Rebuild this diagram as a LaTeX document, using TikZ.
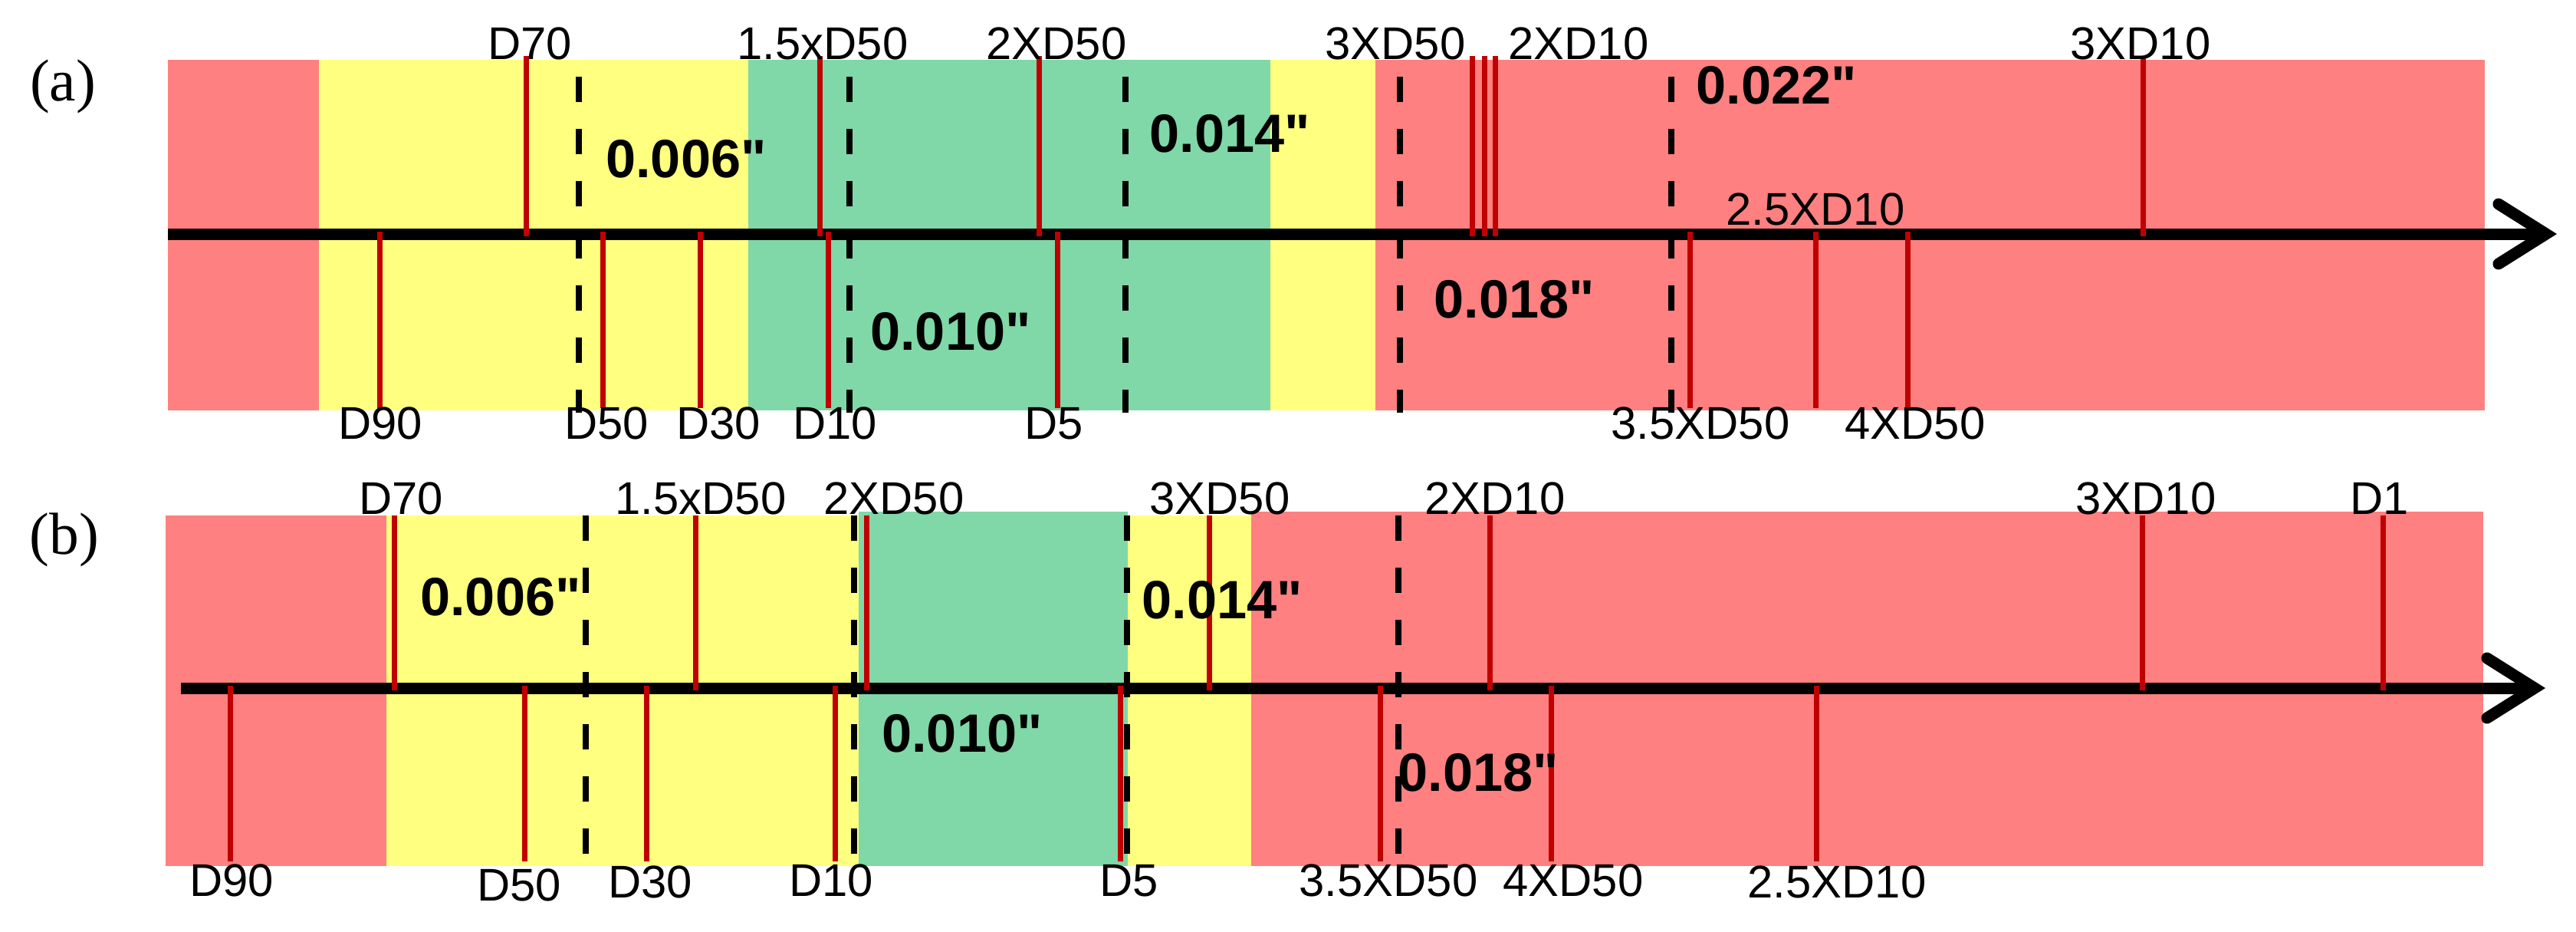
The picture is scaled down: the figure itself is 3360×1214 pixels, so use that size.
\documentclass[tikz,border=0pt]{standalone}
\usepackage{fontspec}
\setmainfont{Liberation Sans}[Ligatures=TeXOff]
\newfontfamily\serifpanel{Liberation Serif}
\usetikzlibrary{arrows.meta}
\definecolor{bgred}{RGB}{255,128,128}
\definecolor{bgyel}{RGB}{255,255,128}
\definecolor{bggrn}{RGB}{128,215,168}
\definecolor{tickred}{RGB}{192,0,0}
\tikzset{
  axisline/.style={line width=0.15cm, -{Straight Barb[length=0.62cm,width=0.78cm,line cap=round]}},
  tickline/.style={tickred, line width=0.07cm},
  sepline/.style={black, line width=0.08cm, dash pattern=on 0.33cm off 0.35cm},
  lbl/.style={inner sep=0pt, anchor=base, font=\fontsize{17pt}{19pt}\selectfont},
  val/.style={inner sep=0pt, anchor=center, font=\fontsize{20pt}{22pt}\selectfont\bfseries},
  panel/.style={inner sep=0pt, anchor=center, font=\fontsize{22pt}{24pt}\selectfont\serifpanel}
}
\begin{document}
\begin{tikzpicture}[x=0.01cm,y=-0.01cm]
\useasboundingbox (0,0) rectangle (3360,1214);
% ---------- panel (a) ----------
\fill[bgred] (219,78) rectangle (416,535);
\fill[bgyel] (416,78) rectangle (976,535);
\fill[bggrn] (976,78) rectangle (1657,535);
\fill[bgyel] (1657,78) rectangle (1794,535);
\fill[bgred] (1794,78) rectangle (3241,535);
\coordinate (a0) at (219,305);
\coordinate (a1) at (3335,305);
\draw[axisline] (a0) -- (a1);
\foreach \x in {755,1108,1468,1826,2180} \draw[sepline] (\x,100) -- (\x,538);
\foreach \x in {686,1069,1355,1920,1936,1950,2795} \draw[tickline] (\x,73) -- (\x,308);
\foreach \x in {495,786,913,1080,1379,2204,2368,2488} \draw[tickline] (\x,302) -- (\x,532);
\node[panel] (pa) at (82,113) {(a)};
\node[lbl] (aD70) at (691,77) {D70};
\node[lbl] (a15) at (1073,77) {1.5xD50};
\node[lbl] (a2x50) at (1378,77) {2XD50};
\node[lbl] (a3x50) at (1820,77) {3XD50};
\node[lbl] (a2x10) at (2059,77) {2XD10};
\node[lbl] (a3x10) at (2792,77) {3XD10};
\node[lbl] (a25x10) at (2368,293) {2.5XD10};
\node[lbl] (aD90) at (496,572) {D90};
\node[lbl] (aD50) at (791,572) {D50};
\node[lbl] (aD30) at (937,572) {D30};
\node[lbl] (aD10) at (1089,572) {D10};
\node[lbl] (aD5) at (1375,572) {D5};
\node[lbl] (a35x50) at (2218,572) {3.5XD50};
\node[lbl] (a4x50) at (2498,572) {4XD50};
\node[val] (av1) at (895,207) {0.006"};
\node[val] (av2) at (1604,174) {0.014"};
\node[val] (av3) at (1240,432) {0.010"};
\node[val] (av4) at (1975,390) {0.018"};
\node[val] (av5) at (2317,111) {0.022"};
% ---------- panel (b) ----------
\fill[bgred] (216,672) rectangle (504,1129);
\fill[bgyel] (504,672) rectangle (1120,1129);
\fill[bggrn] (1120,667) rectangle (1471,1129);
\fill[bgyel] (1471,672) rectangle (1632,1129);
\fill[bgred] (1632,667) rectangle (3239,1129);
\coordinate (b0) at (236,897);
\coordinate (b1) at (3320,897);
\draw[axisline] (b0) -- (b1);
\foreach \x in {764,1114,1470,1824} \draw[sepline] (\x,672) -- (\x,1123);
\foreach \x in {514,907,1130,1577,1943,2794,3108} \draw[tickline] (\x,672) -- (\x,900);
\foreach \x in {300,684,843,1089,1461,1800,2023,2369} \draw[tickline] (\x,894) -- (\x,1123);
\node[panel] (pb) at (84,704) {(b)};
\node[lbl] (bD70) at (523,670) {D70};
\node[lbl] (b15) at (914,670) {1.5xD50};
\node[lbl] (b2x50) at (1166,670) {2XD50};
\node[lbl] (b3x50) at (1591,670) {3XD50};
\node[lbl] (b2x10) at (1950,670) {2XD10};
\node[lbl] (b3x10) at (2799,670) {3XD10};
\node[lbl] (bD1) at (3104,670) {D1};
\node[lbl] (bD90) at (302,1168) {D90};
\node[lbl] (bD50) at (677,1174) {D50};
\node[lbl] (bD30) at (848,1170) {D30};
\node[lbl] (bD10) at (1084,1168) {D10};
\node[lbl] (bD5) at (1473,1168) {D5};
\node[lbl] (b35x50) at (1811,1168) {3.5XD50};
\node[lbl] (b4x50) at (2052,1168) {4XD50};
\node[lbl] (b25x10) at (2396,1170) {2.5XD10};
\node[val] (bv1) at (653,778) {0.006"};
\node[val] (bv2) at (1594,782) {0.014"};
\node[val] (bv3) at (1255,956) {0.010"};
\node[val] (bv4) at (1928,1007) {0.018"};
\end{tikzpicture}
\end{document}
